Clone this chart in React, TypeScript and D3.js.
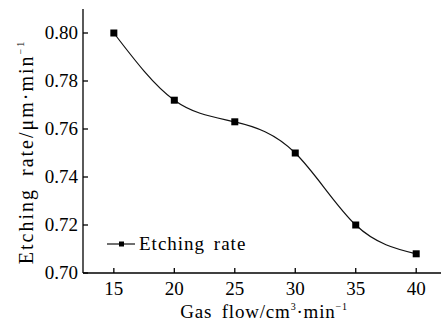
import React from 'react';
import * as d3 from 'd3';

const gasFlow = [15, 20, 25, 30, 35, 40];
const etchRate = [0.8, 0.772, 0.763, 0.75, 0.72, 0.708];
const xTicks = [15, 20, 25, 30, 35, 40];
const yTicks = [0.7, 0.72, 0.74, 0.76, 0.78, 0.8];
const seriesName = 'Etching rate';

const W = 442;
const H = 325;
const FONT = 'Times New Roman, Liberation Serif, serif';

const x = d3.scaleLinear().domain([12.45, 42.05]).range([83, 441]);
const y = d3.scaleLinear().domain([0.7, 0.81]).range([273, 9]);
const pts = gasFlow.map((g, i) => ({ g, r: etchRate[i] }));

const line = d3.line<{ g: number; r: number }>()
    .x(d => x(d.g))
    .y(d => y(d.r))
    .curve(d3.curveNatural);

const App = () => {
    const x0 = x.range()[0];
    const y0 = y(0.7);
    return (
        <svg width={W} height={H} style={{ position: 'absolute', left: 0, top: 0, background: '#fff' }}>
            {/* axes */}
            <line x1={x0} x2={x.range()[1]} y1={y0} y2={y0} stroke="#000" strokeWidth={1.3} />
            <line x1={x0} x2={x0} y1={y.range()[1]} y2={y0} stroke="#000" strokeWidth={1.3} />
            {xTicks.map(t => (
                <g key={t} transform={`translate(${x(t)},${y0})`}>
                    <line y2={-5} stroke="#000" strokeWidth={1.3} />
                    <text y={22} textAnchor="middle" fontFamily={FONT} fontSize={19}>{t}</text>
                </g>
            ))}
            {yTicks.map(t => (
                <g key={t} transform={`translate(${x0},${y(t)})`}>
                    <line x2={5} stroke="#000" strokeWidth={1.3} />
                    <text x={-5} dy="0.34em" textAnchor="end" fontFamily={FONT} fontSize={19}>{d3.format('.2f')(t)}</text>
                </g>
            ))}

            {/* curve and markers */}
            <path d={line(pts) ?? ''} fill="none" stroke="#111" strokeWidth={1.2} />
            {pts.map(d => (
                <rect key={d.g} x={x(d.g) - 3.5} y={y(d.r) - 3.5} width={7} height={7} fill="#000" />
            ))}

            {/* legend */}
            <g transform="translate(107,244)">
                <line x1={0} x2={28} stroke="#111" strokeWidth={1.2} />
                <rect x={12} y={-2.5} width={5} height={5} fill="#000" />
                <text x={32} y={6} fontFamily={FONT} fontSize={19} letterSpacing={1} wordSpacing={3}>{seriesName}</text>
            </g>

            {/* axis titles */}
            <text x={264} y={318} textAnchor="middle" fontFamily={FONT} fontSize={19} letterSpacing={0.8} wordSpacing={4}>
                <tspan>Gas flow/cm</tspan>
                <tspan fontSize={10} dy={-8}>3</tspan>
                <tspan dy={8}>·min</tspan>
                <tspan fontSize={10} dy={-8}>−1</tspan>
            </text>
            <text transform="translate(33,152) rotate(-90)" textAnchor="middle" fontFamily={FONT} fontSize={20} letterSpacing={2} wordSpacing={5}>
                <tspan>Etching rate/μm·min</tspan>
                <tspan fontSize={10} dy={-9}>−1</tspan>
            </text>
        </svg>
    );
};

export default App;
